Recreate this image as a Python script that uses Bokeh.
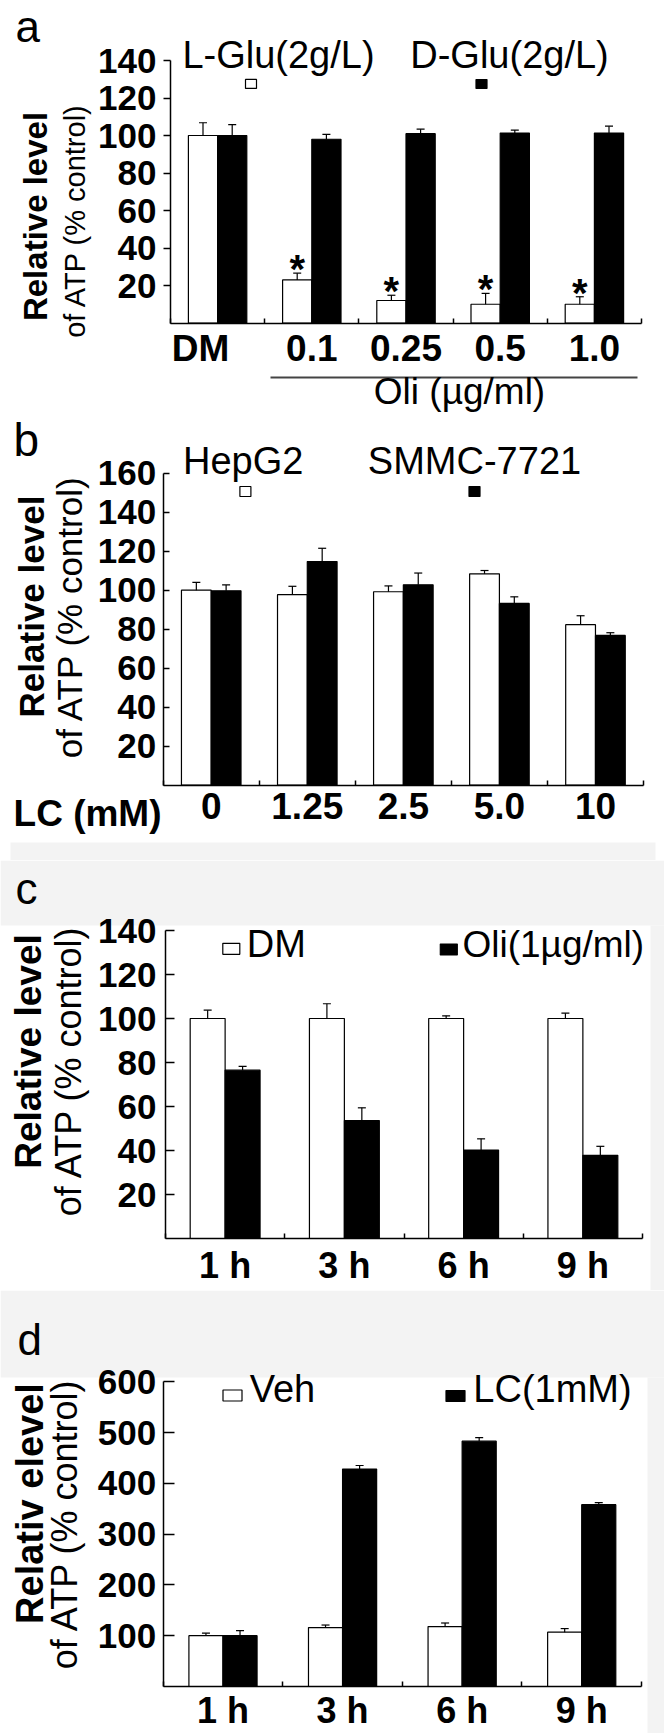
import math
from bokeh.plotting import figure
from bokeh.models import Range1d, LinearAxis, FixedTicker
from bokeh.layouts import column
from bokeh.embed import file_html
from bokeh.resources import INLINE
from bokeh.core.properties import value

FONT = "Liberation Sans"

# ---------------- data ----------------
a_labels = ["DM", "0.1", "0.25", "0.5", "1.0"]
a_lglu = [100, 23, 12, 10, 10]
a_lglu_err = [6.8, 3.6, 2.8, 5.8, 4.0]
a_dglu = [100, 98, 101, 101.3, 101.3]
a_dglu_err = [5.8, 2.6, 2.4, 1.6, 3.7]
a_sig = [False, True, True, True, True]
a_yticks = [20, 40, 60, 80, 100, 120, 140]

b_labels = ["0", "1.25", "2.5", "5.0", "10"]
b_hepg2 = [100, 97.7, 99.2, 108.4, 82.3]
b_hepg2_err = [4.0, 4.3, 3.0, 1.7, 4.6]
b_smmc = [99.7, 114.7, 102.8, 93.2, 76.8]
b_smmc_err = [3.0, 6.8, 6.0, 3.4, 1.4]
b_yticks = [20, 40, 60, 80, 100, 120, 140, 160]

c_labels = ["1 h", "3 h", "6 h", "9 h"]
c_dm = [100, 100, 100, 100]
c_dm_err = [3.8, 6.7, 1.2, 2.4]
c_oli = [76.5, 53.6, 40.2, 37.8]
c_oli_err = [1.7, 5.8, 5.1, 4.1]
c_yticks = [20, 40, 60, 80, 100, 120, 140]

d_labels = ["1 h", "3 h", "6 h", "9 h"]
d_veh = [100, 116, 118, 107]
d_veh_err = [5, 5, 7, 7]
d_lc = [100, 428, 483, 358]
d_lc_err = [10, 7, 7, 4]
d_yticks = [100, 200, 300, 400, 500, 600]

PAGE_W = 664
ROT = math.pi / 2
SCAN_GRAY = "#f3f3f3"


class Panel:
    def __init__(self, top, h, frame_left, axis_right, n, base, ppu, ymax,
                 yticks, tick_in, tick_out, ylab_so, label_pos, labels,
                 xlab_so, xlab_size="36px"):
        self.top = top
        self.h = h
        self.frame_left = frame_left
        self.base = base
        self.ppu = ppu
        self.n = n
        self.gw = (axis_right - frame_left) / n
        x0 = (0 - frame_left) / self.gw
        x1 = (PAGE_W - frame_left) / self.gw
        y0 = (base - (top + h)) / ppu
        y1 = (base - top) / ppu
        p = figure(width=PAGE_W, height=h,
                   x_range=Range1d(x0, x1), y_range=Range1d(y0, y1),
                   x_axis_type=None, y_axis_type=None,
                   toolbar_location=None, output_backend="svg",
                   min_border_left=0, min_border_right=0,
                   min_border_top=0, min_border_bottom=0)
        p.outline_line_color = None
        p.background_fill_color = "white"
        p.border_fill_color = "white"
        self.p = p
        self.axes = (yticks, ymax, tick_in, tick_out, ylab_so, label_pos,
                     labels, xlab_so, xlab_size)

    def add_axes(self):
        (yticks, ymax, tick_in, tick_out, ylab_so, label_pos, labels,
         xlab_so, xlab_size) = self.axes
        p = self.p
        n = self.n
        yax = LinearAxis(ticker=FixedTicker(ticks=yticks, minor_ticks=[]),
                         bounds=(0, ymax), fixed_location=0)
        yax.axis_line_width = 1.5
        yax.axis_line_color = "black"
        yax.major_tick_in = tick_in
        yax.major_tick_out = tick_out
        yax.major_tick_line_width = 1.5
        yax.minor_tick_line_color = None
        yax.major_label_standoff = ylab_so
        yax.major_label_text_font = FONT
        yax.major_label_text_font_size = "35px"
        yax.major_label_text_font_style = "bold"
        yax.major_label_text_color = "black"
        p.add_layout(yax, "left")

        xax = LinearAxis(ticker=FixedTicker(ticks=label_pos,
                                            minor_ticks=list(range(n + 1))),
                         bounds=(0, n), fixed_location=0)
        xax.major_label_overrides = {float(k): v for k, v in zip(label_pos, labels)}
        xax.axis_line_width = 1.5
        xax.axis_line_color = "black"
        xax.major_tick_line_color = None
        xax.major_tick_in = 0
        xax.major_tick_out = 0
        xax.minor_tick_in = 5
        xax.minor_tick_out = 0
        xax.minor_tick_line_width = 1.5
        xax.minor_tick_line_color = "black"
        xax.major_label_standoff = xlab_so
        xax.major_label_text_font = FONT
        xax.major_label_text_font_size = xlab_size
        xax.major_label_text_font_style = "bold"
        xax.major_label_text_color = "black"
        p.add_layout(xax, "below")

    def X(self, px):
        return (px - self.frame_left) / self.gw

    def Y(self, py):
        return (self.base - py) / self.ppu

    def shade(self, px0, py0, px1, py1):
        self.p.quad(left=[self.X(px0)], right=[self.X(px1)],
                    top=[self.Y(py0)], bottom=[self.Y(py1)],
                    fill_color=SCAN_GRAY, line_color=None)

    def bars(self, v1, e1, v2, e2, bw):
        p = self.p
        cw = 4.0 / self.gw
        xs1 = [i + 0.5 - bw / 2 for i in range(self.n)]
        xs2 = [i + 0.5 + bw / 2 for i in range(self.n)]
        p.vbar(x=xs1, top=v1, bottom=0, width=bw, fill_color="white",
               line_color="black", line_width=1.2)
        p.vbar(x=xs2, top=v2, bottom=0, width=bw, fill_color="black",
               line_color="black", line_width=1.2)
        for xs, v, e in ((xs1, v1, e1), (xs2, v2, e2)):
            tops = [a + b for a, b in zip(v, e)]
            p.segment(x0=xs, y0=v, x1=xs, y1=tops, line_color="black", line_width=1.2)
            p.segment(x0=[x - cw for x in xs], y0=tops, x1=[x + cw for x in xs],
                      y1=tops, line_color="black", line_width=1.2)
        return xs1

    def text(self, px, py, s, size, align="center", bold=False, angle=0.0):
        # py: vertical middle of the text box, in page pixels
        self.p.text(x=[self.X(px)], y=[self.Y(py)], text=[s], angle=angle,
                    text_font=value(FONT), text_font_size=size,
                    text_font_style="bold" if bold else "normal",
                    text_align=align, text_baseline="middle", text_color="black")

    def square(self, px, py, w, h, fill):
        self.p.rect(x=[self.X(px)], y=[self.Y(py)], width=w, height=h,
                    width_units="screen", height_units="screen",
                    fill_color=fill, line_color="black", line_width=1.2)


# ---------------- panel a ----------------
A = Panel(top=0, h=412, frame_left=170, axis_right=641, n=5, base=322.5,
          ppu=1.875, ymax=140, yticks=a_yticks, tick_in=0, tick_out=7,
          ylab_so=7, label_pos=[0.32, 1.5, 2.5, 3.5, 4.5], labels=a_labels,
          xlab_so=5, xlab_size="37px")
A.add_axes()
wx = A.bars(a_lglu, a_lglu_err, a_dglu, a_dglu_err, 0.31)
ast_x = [x for x, s in zip(wx, a_sig) if s]
ast_y = [v + e + 2.2 for v, e, s in zip(a_lglu, a_lglu_err, a_sig) if s]
A.p.text(x=ast_x, y=ast_y, text=["*"] * len(ast_x), text_font=value(FONT),
         text_font_size="40px", text_font_style="bold", text_align="center",
         text_baseline="middle", text_color="black")
A.text(278, 54, "L-Glu(2g/L)", "38px")
A.text(509, 54, "D-Glu(2g/L)", "38px")
A.square(250.5, 83.4, 11, 9, "white")
A.square(481, 83.5, 11, 9, "black")
A.text(15, 26, "a", "44px", align="left")
A.text(35, 216, "Relative level", "33px", bold=True, angle=ROT)
A.text(74, 220, "of ATP (% control)", "29px", angle=ROT)
A.p.segment(x0=[A.X(270)], y0=[A.Y(377)], x1=[A.X(637)], y1=[A.Y(377)],
            line_color="#444444", line_width=2)
A.text(459, 391, "Oli (µg/ml)", "37px")

# ---------------- panel b ----------------
B = Panel(top=412, h=448, frame_left=162.7, axis_right=643, n=5, base=784.7,
          ppu=1.95, ymax=160, yticks=b_yticks, tick_in=6, tick_out=0,
          ylab_so=7, label_pos=[0.5, 1.5, 2.5, 3.5, 4.5], labels=b_labels,
          xlab_so=8, xlab_size="37px")
B.shade(10, 842, 655, 860)
B.add_axes()
B.bars(b_hepg2, b_hepg2_err, b_smmc, b_smmc_err, 0.31)
B.text(242.7, 460.5, "HepG2", "38px")
B.text(474, 460.5, "SMMC-7721", "38px")
B.square(244.9, 491, 11, 10, "white")
B.square(474, 491, 11, 10, "black")
B.text(13, 439, "b", "46px", align="left")
B.text(30.5, 606, "Relative level", "35px", bold=True, angle=ROT)
B.text(68.9, 616, "of ATP (% control)", "35px", angle=ROT)
B.text(161, 812.5, "LC (mM)", "37px", align="right", bold=True)

# ---------------- panel c ----------------
C = Panel(top=860, h=430, frame_left=165, axis_right=642, n=4, base=1238,
          ppu=2.2, ymax=140, yticks=c_yticks, tick_in=9, tick_out=0,
          ylab_so=9, label_pos=[0.5, 1.5, 2.5, 3.5], labels=c_labels,
          xlab_so=6)
C.shade(0, 860, 664, 925)
C.shade(650, 925, 664, 1290)
C.add_axes()
C.bars(c_dm, c_dm_err, c_oli, c_oli_err, 0.293)
C.square(230.8, 948.3, 17, 11, "white")
C.square(448.3, 949, 17, 11, "black")
C.text(246.3, 943.8, "DM", "38px", align="left")
C.text(462, 943.8, "Oli(1µg/ml)", "37px", align="left")
C.text(15, 888, "c", "44px", align="left")
C.text(28.2, 1051, "Relative level", "37px", bold=True, angle=ROT)
C.text(67.5, 1070, "of ATP (% control)", "36px", angle=ROT)

# ---------------- panel d ----------------
D = Panel(top=1290, h=443, frame_left=162.7, axis_right=641, n=4, base=1686,
          ppu=0.508, ymax=600, yticks=d_yticks, tick_in=11, tick_out=0,
          ylab_so=7, label_pos=[0.5, 1.5, 2.5, 3.5], labels=d_labels,
          xlab_so=3)
D.shade(0, 1290, 664, 1377)
D.shade(647, 1377, 664, 1733)
D.add_axes()
D.bars(d_veh, d_veh_err, d_lc, d_lc_err, 0.285)
D.square(232, 1395, 19, 11, "white")
D.square(455, 1395.5, 19, 11, "black")
D.text(249.2, 1388.4, "Veh", "38px", align="left")
D.text(472.8, 1388.4, "LC(1mM)", "38px", align="left")
D.text(17, 1339, "d", "44px", align="left")
D.text(29.3, 1503, "Relativ elevel", "38px", bold=True, angle=ROT)
D.text(63.5, 1523, "of ATP (% control)", "36px", angle=ROT)

layout = column(A.p, B.p, C.p, D.p, spacing=0)
open("out.html", "w").write(file_html(layout, INLINE))
